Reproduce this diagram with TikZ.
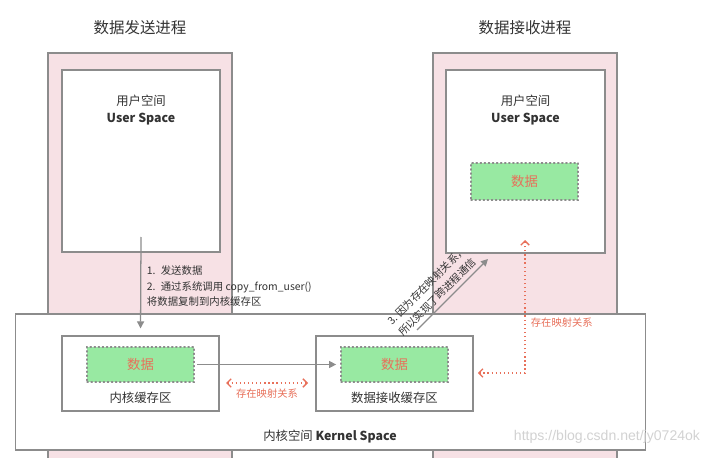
\documentclass[tikz,border=0pt]{standalone}
\usepackage{fontspec}
\setmainfont{Noto Sans CJK SC}
\newfontfamily\wmfont{Liberation Sans}
\usepackage{xcolor}
\usepackage{tikz}
\usetikzlibrary{arrows.meta}

\definecolor{procpink}{HTML}{F7E1E5}
\definecolor{edgegray}{HTML}{8C8C8C}
\definecolor{datagreen}{HTML}{98E9A2}
\definecolor{mapred}{HTML}{E8705A}
\definecolor{txtgray}{HTML}{333333}
\definecolor{markgray}{HTML}{D2D2D2}

\tikzset{
  procbox/.style={draw=edgegray, fill=procpink, line width=0.8pt, inner sep=0pt},
  spacebox/.style={draw=edgegray, fill=white, line width=0.8pt, inner sep=0pt},
  databox/.style={draw=edgegray, fill=datagreen, dotted, line cap=round, line width=0.9pt,
    inner sep=0pt, text=mapred, font=\fontsize{9.5}{11}\selectfont},
  lbl/.style={text=txtgray, font=\fontsize{8.8}{12}\selectfont, align=center},
  small/.style={text=txtgray, font=\fontsize{7.4}{11}\selectfont},
  maplbl/.style={text=mapred, font=\fontsize{7.3}{9}\selectfont},
  flow/.style={draw=edgegray, line width=0.9pt, -{Triangle[length=5pt,width=5pt]}},
  mapflow/.style={draw=mapred, dotted, line width=0.9pt,
    {Straight Barb[length=3pt,width=6pt]}-{Straight Barb[length=3pt,width=6pt]}}
}

\begin{document}
\begin{tikzpicture}[x=0.025cm, y=-0.025cm]
    \useasboundingbox (0,0) rectangle (720,458);

    \node[text=txtgray, font=\fontsize{11}{13}\selectfont] (sendtitle) at (140,28) {数据发送进程};
    \node[text=txtgray, font=\fontsize{11}{13}\selectfont] (recvtitle) at (525,28) {数据接收进程};

    \node[procbox, minimum width=4.6cm, minimum height=10.425cm] (sendproc) at (140,261.5) {};
    \node[procbox, minimum width=4.6cm, minimum height=10.425cm] (recvproc) at (525,261.5) {};

    \node[spacebox, minimum width=3.95cm, minimum height=4.55cm] (senduser) at (141,161) {};
    \node[spacebox, minimum width=3.975cm, minimum height=4.575cm] (recvuser) at (525.5,161.5) {};
    \node[lbl] (sendusertxt) at (141,110) {用户空间\\\textbf{User Space}};
    \node[lbl] (recvusertxt) at (525.5,110) {用户空间\\\textbf{User Space}};
    \node[databox, minimum width=2.675cm, minimum height=0.925cm] (userdata) at (524.5,181.5) {数据};

    \node[spacebox, minimum width=15.725cm, minimum height=3.4cm] (kernel) at (330.5,382) {};
    \node[lbl] (kerneltxt) at (330,437) {内核空间 \textbf{Kernel Space}};

    \node[spacebox, minimum width=3.925cm, minimum height=1.875cm] (sendbuf) at (140.5,373.5) {};
    \node[spacebox, minimum width=3.925cm, minimum height=1.875cm] (recvbuf) at (394.5,373.5) {};
    \node[databox, minimum width=2.675cm, minimum height=0.875cm] (senddata) at (140.5,364.5) {数据};
    \node[databox, minimum width=2.675cm, minimum height=0.875cm] (recvdata) at (394.5,364.5) {数据};
    \node[lbl] (sendbuftxt) at (140.5,398) {内核缓存区};
    \node[lbl] (recvbuftxt) at (394.5,398) {数据接收缓存区};

    \coordinate (copystart) at (141,237);
    \draw[flow, shorten >=5pt] (copystart) -- (sendbuf.north);
    \node[small, anchor=north west, align=left] (copytxt) at (142,261)
      {1.\enspace 发送数据\\2.\enspace 通过系统调用 copy\_from\_user()\\将数据复制到内核缓存区};

    \draw[flow, shorten <=2pt, shorten >=3pt] (senddata.east) -- (recvdata.west);

    \coordinate (mapleft) at (226,383);
    \coordinate (mapright) at (308,383);
    \draw[mapflow] (mapleft) -- (mapright);
    \node[maplbl] (maptxt) at (267,394) {存在映射关系};

    \coordinate (mapcorner) at (525,373);
    \coordinate (mapup) at (525,240);
    \draw[mapflow, shorten <=3pt] (recvbuf.east |- mapcorner) -- (mapcorner) -- (mapup);
    \node[maplbl, anchor=west] (mapuptxt) at (526,323) {存在映射关系};

    \coordinate (ipcstart) at (417,330);
    \coordinate (ipcend) at (488,259);
    \draw[flow] (ipcstart) -- node[small, sloped, above, pos=0.38, align=left, inner sep=2.5pt]
      {3. 因为存在映射关系，\\所以实现了跨进程通信} (ipcend);

    \node[text=markgray, font=\wmfont\fontsize{10}{12}\selectfont] (mark) at (607,437) {https://blog.csdn.net/jy0724ok};
\end{tikzpicture}
\end{document}
